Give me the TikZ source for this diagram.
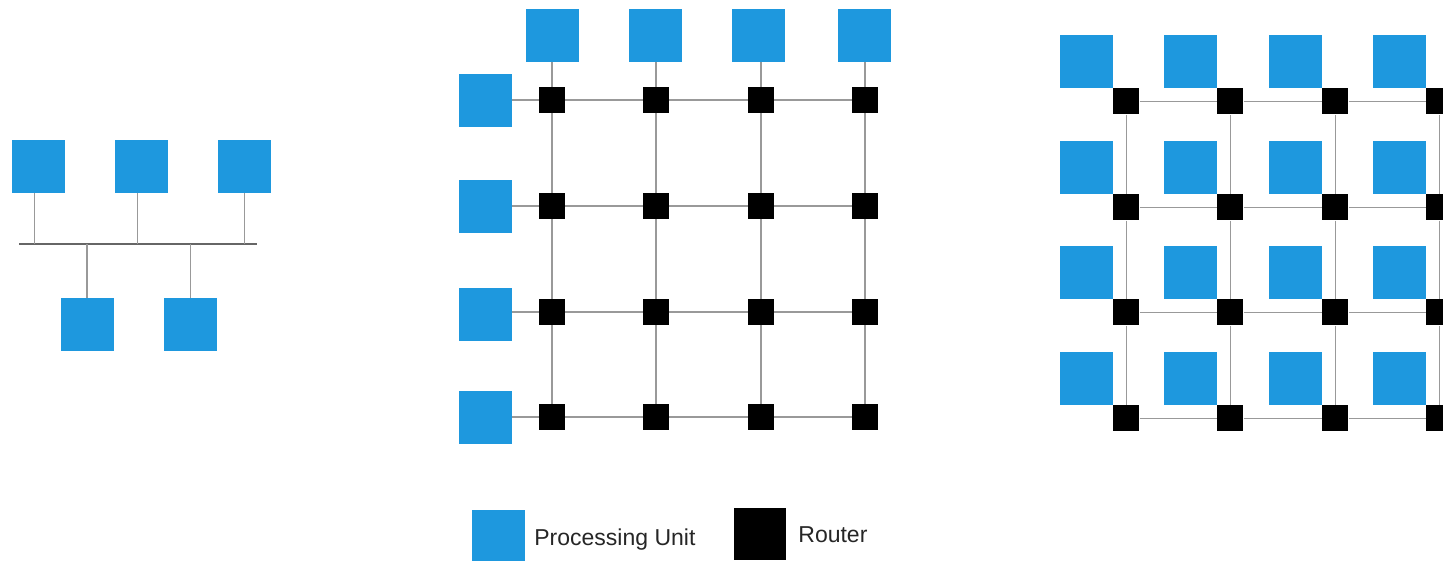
\documentclass[tikz,border=0pt]{standalone}
\usepackage{fontspec}
\setmainfont{Liberation Sans}
\usetikzlibrary{positioning,backgrounds}
\definecolor{pucolor}{RGB}{30,152,222}

\begin{document}
\begin{tikzpicture}[x=1pt,y=-1pt]
      \tikzset{
	  pu/.style={rectangle, fill=pucolor, inner sep=0em, minimum size=53pt},
	  router/.style={rectangle, fill=black, inner sep=0em, minimum size=26pt},
	  link/.style={draw=black!40, line width=1.4pt},
	  bus/.style={draw=black!60, line width=1.6pt},
	  legend/.style={text=black!85, font=\fontsize{23}{26}\selectfont, inner sep=0pt},
      }
      \useasboundingbox (0,0) rectangle (1443,560);
      \clip (0,0) rectangle (1443,560);

      % shared bus
      \node (bt1) at (38.5,166.5) [pu] {};
      \node (bt2) at (141.5,166.5) [pu] {};
      \node (bt3) at (244.5,166.5) [pu] {};
      \node (bb1) at (87,324.5) [pu] {};
      \node (bb2) at (190.5,324.5) [pu] {};
      \coordinate (busl) at (19,244);
      \coordinate (busr) at (257,244);
      \draw [bus] (busl) -- (busr);
      \foreach \n in {bt1,bt2}
	\draw [link] ([xshift=-4pt]\n.south) -- ([xshift=-4pt]\n.south |- busl);
      \draw [link] (bt3.south) -- (bt3.south |- busl);
      \foreach \n in {bb1,bb2}
	\draw [link] (\n.north) -- (\n.north |- busl);

      % mesh with edge units
      \foreach \x [count=\i] in {552,656,761,865}
	\foreach \y [count=\j] in {100,206,312,417}
	  \node (r\j\i) at (\x,\y) [router] {};
      \foreach \x [count=\i] in {552.5,655.5,758,864.5}
	\node (pt\i) at (\x,35) [pu] {};
      \foreach \y [count=\j] in {100.5,206.5,314.5,417.5}
	\node (pl\j) at (485.5,\y) [pu] {};
      \begin{scope}[on background layer]
	\foreach \i in {1,...,4} {
	  \draw [link] (pt\i.south -| r1\i) -- (r1\i);
	  \draw [link] (pl\i.east |- r\i1) -- (r\i1);
	}
	\foreach \a/\b in {1/2,2/3,3/4}
	  \foreach \k in {1,...,4} {
	    \draw [link] (r\k\a) -- (r\k\b);
	    \draw [link] (r\a\k) -- (r\b\k);
	  }
      \end{scope}

      % mesh with a unit at every router
      \foreach \x [count=\i] in {1086.5,1190.5,1295.5,1399.5}
	\foreach \y [count=\j] in {61.5,167.5,272.5,378.5} {
	  \node (P\j\i) at (\x,\y) [pu] {};
	  \node (R\j\i) [router, below right=0pt of P\j\i] {};
	}
      \begin{scope}[on background layer]
	\foreach \a/\b in {1/2,2/3,3/4}
	  \foreach \k in {1,...,4} {
	    \draw [link] (R\k\a) -- (R\k\b);
	    \draw [link] (R\a\k) -- (R\b\k);
	  }
      \end{scope}

      % legend
      \node (lpu) at (498.5,536.5) [pu] {};
      \node (lputext) at ([xshift=9pt, yshift=-8.5pt]lpu.east) [legend, anchor=base west] {Processing Unit};
      \node (lr) at (760,534) [router, minimum size=52pt] {};
      \node (lrtext) at ([xshift=12pt, yshift=-8pt]lr.east) [legend, anchor=base west] {Router};
    \end{tikzpicture}
\end{document}
